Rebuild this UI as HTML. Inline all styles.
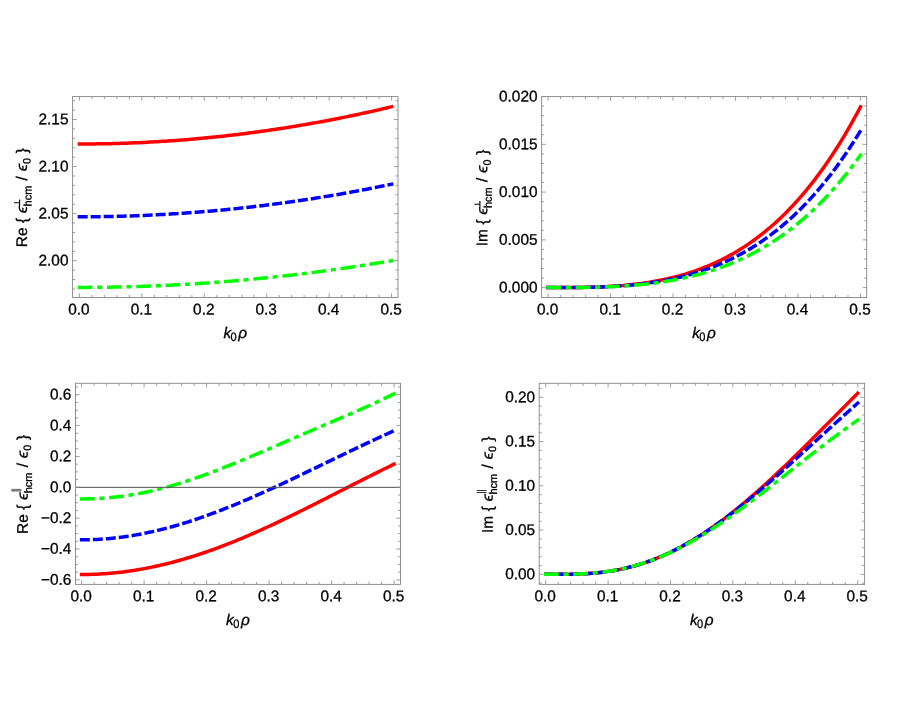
<!DOCTYPE html>
<html><head><meta charset="utf-8"><title>plots</title>
<style>
html,body{margin:0;padding:0;background:#fff;}
svg{display:block;will-change:transform;}
text{font-family:"Liberation Sans", sans-serif;fill:#000;stroke:#000;stroke-width:0.3px;text-rendering:geometricPrecision;}
</style></head>
<body>
<svg width="900" height="702" viewBox="0 0 900 702">
<rect x="0" y="0" width="900" height="702" fill="#fff"/>
<g fill="none" stroke-width="3.5" stroke-linecap="square" stroke-linejoin="round">
<polyline points="79.43,144 82.03,144 84.63,143.99 87.23,143.98 89.84,143.96 92.44,143.94 95.04,143.91 97.64,143.87 100.24,143.83 102.84,143.79 105.44,143.74 108.04,143.69 110.65,143.63 113.25,143.56 115.85,143.49 118.45,143.42 121.05,143.34 123.65,143.25 126.25,143.16 128.85,143.07 131.46,142.97 134.06,142.86 136.66,142.75 139.26,142.63 141.86,142.51 144.46,142.39 147.06,142.25 149.66,142.12 152.27,141.97 154.87,141.83 157.47,141.68 160.07,141.52 162.67,141.35 165.27,141.19 167.87,141.01 170.47,140.84 173.07,140.65 175.68,140.46 178.28,140.27 180.88,140.07 183.48,139.87 186.08,139.66 188.68,139.44 191.28,139.22 193.88,139 196.49,138.77 199.09,138.53 201.69,138.29 204.29,138.05 206.89,137.8 209.49,137.54 212.09,137.28 214.7,137.01 217.3,136.74 219.9,136.47 222.5,136.19 225.1,135.9 227.7,135.61 230.3,135.31 232.9,135.01 235.5,134.7 238.11,134.39 240.71,134.07 243.31,133.75 245.91,133.42 248.51,133.09 251.11,132.75 253.71,132.4 256.32,132.05 258.92,131.7 261.52,131.34 264.12,130.98 266.72,130.61 269.32,130.23 271.92,129.85 274.52,129.47 277.12,129.08 279.73,128.68 282.33,128.28 284.93,127.88 287.53,127.47 290.13,127.05 292.73,126.63 295.33,126.2 297.94,125.77 300.54,125.34 303.14,124.89 305.74,124.45 308.34,123.99 310.94,123.54 313.54,123.08 316.14,122.61 318.75,122.13 321.35,121.66 323.95,121.17 326.55,120.69 329.15,120.19 331.75,119.69 334.35,119.19 336.95,118.68 339.56,118.17 342.16,117.65 344.76,117.12 347.36,116.59 349.96,116.06 352.56,115.52 355.16,114.97 357.76,114.42 360.37,113.87 362.97,113.31 365.57,112.74 368.17,112.17 370.77,111.59 373.37,111.01 375.97,110.43 378.57,109.84 381.18,109.24 383.78,108.64 386.38,108.03 388.98,107.42 391.58,106.8" stroke="#ff0000"/>
<polyline points="79.43,216.8 82.03,216.8 84.63,216.79 87.23,216.78 89.84,216.76 92.44,216.74 95.04,216.72 97.64,216.69 100.24,216.66 102.84,216.62 105.44,216.57 108.04,216.53 110.65,216.47 113.25,216.42 115.85,216.36 118.45,216.29 121.05,216.22 123.65,216.15 126.25,216.07 128.85,215.98 131.46,215.89 134.06,215.8 136.66,215.7 139.26,215.6 141.86,215.5 144.46,215.39 147.06,215.27 149.66,215.15 152.27,215.03 154.87,214.9 157.47,214.76 160.07,214.62 162.67,214.48 165.27,214.33 167.87,214.18 170.47,214.03 173.07,213.87 175.68,213.7 178.28,213.53 180.88,213.36 183.48,213.18 186.08,212.99 188.68,212.81 191.28,212.61 193.88,212.42 196.49,212.22 199.09,212.01 201.69,211.8 204.29,211.58 206.89,211.36 209.49,211.14 212.09,210.91 214.7,210.68 217.3,210.44 219.9,210.2 222.5,209.95 225.1,209.7 227.7,209.44 230.3,209.18 232.9,208.92 235.5,208.65 238.11,208.38 240.71,208.1 243.31,207.81 245.91,207.53 248.51,207.24 251.11,206.94 253.71,206.64 256.32,206.33 258.92,206.02 261.52,205.71 264.12,205.39 266.72,205.06 269.32,204.74 271.92,204.4 274.52,204.07 277.12,203.72 279.73,203.38 282.33,203.03 284.93,202.67 287.53,202.31 290.13,201.95 292.73,201.58 295.33,201.2 297.94,200.83 300.54,200.44 303.14,200.06 305.74,199.66 308.34,199.27 310.94,198.87 313.54,198.46 316.14,198.05 318.75,197.64 321.35,197.22 323.95,196.8 326.55,196.37 329.15,195.94 331.75,195.5 334.35,195.06 336.95,194.61 339.56,194.16 342.16,193.71 344.76,193.25 347.36,192.78 349.96,192.31 352.56,191.84 355.16,191.36 357.76,190.88 360.37,190.39 362.97,189.9 365.57,189.41 368.17,188.91 370.77,188.4 373.37,187.89 375.97,187.38 378.57,186.86 381.18,186.34 383.78,185.81 386.38,185.28 388.98,184.74 391.58,184.2" stroke="#0000ff" stroke-dasharray="6.5 6.5"/>
<polyline points="79.43,287.4 82.03,287.4 84.63,287.39 87.23,287.38 89.84,287.37 92.44,287.35 95.04,287.33 97.64,287.31 100.24,287.28 102.84,287.25 105.44,287.21 108.04,287.18 110.65,287.13 113.25,287.09 115.85,287.04 118.45,286.98 121.05,286.93 123.65,286.86 126.25,286.8 128.85,286.73 131.46,286.66 134.06,286.58 136.66,286.5 139.26,286.42 141.86,286.33 144.46,286.24 147.06,286.15 149.66,286.05 152.27,285.95 154.87,285.84 157.47,285.73 160.07,285.62 162.67,285.5 165.27,285.38 167.87,285.26 170.47,285.13 173.07,285 175.68,284.86 178.28,284.72 180.88,284.58 183.48,284.43 186.08,284.28 188.68,284.13 191.28,283.97 193.88,283.81 196.49,283.65 199.09,283.48 201.69,283.3 204.29,283.13 206.89,282.95 209.49,282.76 212.09,282.58 214.7,282.39 217.3,282.19 219.9,281.99 222.5,281.79 225.1,281.59 227.7,281.38 230.3,281.16 232.9,280.95 235.5,280.72 238.11,280.5 240.71,280.27 243.31,280.04 245.91,279.81 248.51,279.57 251.11,279.32 253.71,279.08 256.32,278.83 258.92,278.57 261.52,278.31 264.12,278.05 266.72,277.79 269.32,277.52 271.92,277.25 274.52,276.97 277.12,276.69 279.73,276.41 282.33,276.12 284.93,275.83 287.53,275.53 290.13,275.23 292.73,274.93 295.33,274.63 297.94,274.32 300.54,274 303.14,273.69 305.74,273.37 308.34,273.04 310.94,272.71 313.54,272.38 316.14,272.05 318.75,271.71 321.35,271.36 323.95,271.02 326.55,270.67 329.15,270.31 331.75,269.95 334.35,269.59 336.95,269.23 339.56,268.86 342.16,268.49 344.76,268.11 347.36,267.73 349.96,267.35 352.56,266.96 355.16,266.57 357.76,266.17 360.37,265.77 362.97,265.37 365.57,264.96 368.17,264.55 370.77,264.14 373.37,263.72 375.97,263.3 378.57,262.88 381.18,262.45 383.78,262.02 386.38,261.58 388.98,261.14 391.58,260.7" stroke="#00ff00" stroke-dasharray="11.3 8.2 1.6 8.2"/>
</g>
<rect x="72.57" y="96.57" width="325.43" height="200.93" fill="none" stroke="#8c8c8c" stroke-width="0.95"/>
<line x1="79.43" y1="297.5" x2="79.43" y2="293.4" stroke="#8c8c8c" stroke-width="0.85"/>
<line x1="79.43" y1="96.57" x2="79.43" y2="100.67" stroke="#8c8c8c" stroke-width="0.85"/>
<text x="78.93" y="314.4" font-size="15.4" text-anchor="middle" transform="rotate(0.03 78.93 314.4)">0.0</text>
<line x1="91.92" y1="297.5" x2="91.92" y2="295" stroke="#8c8c8c" stroke-width="0.85"/>
<line x1="91.92" y1="96.57" x2="91.92" y2="99.07" stroke="#8c8c8c" stroke-width="0.85"/>
<line x1="104.4" y1="297.5" x2="104.4" y2="295" stroke="#8c8c8c" stroke-width="0.85"/>
<line x1="104.4" y1="96.57" x2="104.4" y2="99.07" stroke="#8c8c8c" stroke-width="0.85"/>
<line x1="116.89" y1="297.5" x2="116.89" y2="295" stroke="#8c8c8c" stroke-width="0.85"/>
<line x1="116.89" y1="96.57" x2="116.89" y2="99.07" stroke="#8c8c8c" stroke-width="0.85"/>
<line x1="129.37" y1="297.5" x2="129.37" y2="295" stroke="#8c8c8c" stroke-width="0.85"/>
<line x1="129.37" y1="96.57" x2="129.37" y2="99.07" stroke="#8c8c8c" stroke-width="0.85"/>
<line x1="141.86" y1="297.5" x2="141.86" y2="293.4" stroke="#8c8c8c" stroke-width="0.85"/>
<line x1="141.86" y1="96.57" x2="141.86" y2="100.67" stroke="#8c8c8c" stroke-width="0.85"/>
<text x="141.36" y="314.4" font-size="15.4" text-anchor="middle" transform="rotate(0.03 141.36 314.4)">0.1</text>
<line x1="154.35" y1="297.5" x2="154.35" y2="295" stroke="#8c8c8c" stroke-width="0.85"/>
<line x1="154.35" y1="96.57" x2="154.35" y2="99.07" stroke="#8c8c8c" stroke-width="0.85"/>
<line x1="166.83" y1="297.5" x2="166.83" y2="295" stroke="#8c8c8c" stroke-width="0.85"/>
<line x1="166.83" y1="96.57" x2="166.83" y2="99.07" stroke="#8c8c8c" stroke-width="0.85"/>
<line x1="179.32" y1="297.5" x2="179.32" y2="295" stroke="#8c8c8c" stroke-width="0.85"/>
<line x1="179.32" y1="96.57" x2="179.32" y2="99.07" stroke="#8c8c8c" stroke-width="0.85"/>
<line x1="191.8" y1="297.5" x2="191.8" y2="295" stroke="#8c8c8c" stroke-width="0.85"/>
<line x1="191.8" y1="96.57" x2="191.8" y2="99.07" stroke="#8c8c8c" stroke-width="0.85"/>
<line x1="204.29" y1="297.5" x2="204.29" y2="293.4" stroke="#8c8c8c" stroke-width="0.85"/>
<line x1="204.29" y1="96.57" x2="204.29" y2="100.67" stroke="#8c8c8c" stroke-width="0.85"/>
<text x="203.79" y="314.4" font-size="15.4" text-anchor="middle" transform="rotate(0.03 203.79 314.4)">0.2</text>
<line x1="216.78" y1="297.5" x2="216.78" y2="295" stroke="#8c8c8c" stroke-width="0.85"/>
<line x1="216.78" y1="96.57" x2="216.78" y2="99.07" stroke="#8c8c8c" stroke-width="0.85"/>
<line x1="229.26" y1="297.5" x2="229.26" y2="295" stroke="#8c8c8c" stroke-width="0.85"/>
<line x1="229.26" y1="96.57" x2="229.26" y2="99.07" stroke="#8c8c8c" stroke-width="0.85"/>
<line x1="241.75" y1="297.5" x2="241.75" y2="295" stroke="#8c8c8c" stroke-width="0.85"/>
<line x1="241.75" y1="96.57" x2="241.75" y2="99.07" stroke="#8c8c8c" stroke-width="0.85"/>
<line x1="254.23" y1="297.5" x2="254.23" y2="295" stroke="#8c8c8c" stroke-width="0.85"/>
<line x1="254.23" y1="96.57" x2="254.23" y2="99.07" stroke="#8c8c8c" stroke-width="0.85"/>
<line x1="266.72" y1="297.5" x2="266.72" y2="293.4" stroke="#8c8c8c" stroke-width="0.85"/>
<line x1="266.72" y1="96.57" x2="266.72" y2="100.67" stroke="#8c8c8c" stroke-width="0.85"/>
<text x="266.22" y="314.4" font-size="15.4" text-anchor="middle" transform="rotate(0.03 266.22 314.4)">0.3</text>
<line x1="279.21" y1="297.5" x2="279.21" y2="295" stroke="#8c8c8c" stroke-width="0.85"/>
<line x1="279.21" y1="96.57" x2="279.21" y2="99.07" stroke="#8c8c8c" stroke-width="0.85"/>
<line x1="291.69" y1="297.5" x2="291.69" y2="295" stroke="#8c8c8c" stroke-width="0.85"/>
<line x1="291.69" y1="96.57" x2="291.69" y2="99.07" stroke="#8c8c8c" stroke-width="0.85"/>
<line x1="304.18" y1="297.5" x2="304.18" y2="295" stroke="#8c8c8c" stroke-width="0.85"/>
<line x1="304.18" y1="96.57" x2="304.18" y2="99.07" stroke="#8c8c8c" stroke-width="0.85"/>
<line x1="316.66" y1="297.5" x2="316.66" y2="295" stroke="#8c8c8c" stroke-width="0.85"/>
<line x1="316.66" y1="96.57" x2="316.66" y2="99.07" stroke="#8c8c8c" stroke-width="0.85"/>
<line x1="329.15" y1="297.5" x2="329.15" y2="293.4" stroke="#8c8c8c" stroke-width="0.85"/>
<line x1="329.15" y1="96.57" x2="329.15" y2="100.67" stroke="#8c8c8c" stroke-width="0.85"/>
<text x="328.65" y="314.4" font-size="15.4" text-anchor="middle" transform="rotate(0.03 328.65 314.4)">0.4</text>
<line x1="341.64" y1="297.5" x2="341.64" y2="295" stroke="#8c8c8c" stroke-width="0.85"/>
<line x1="341.64" y1="96.57" x2="341.64" y2="99.07" stroke="#8c8c8c" stroke-width="0.85"/>
<line x1="354.12" y1="297.5" x2="354.12" y2="295" stroke="#8c8c8c" stroke-width="0.85"/>
<line x1="354.12" y1="96.57" x2="354.12" y2="99.07" stroke="#8c8c8c" stroke-width="0.85"/>
<line x1="366.61" y1="297.5" x2="366.61" y2="295" stroke="#8c8c8c" stroke-width="0.85"/>
<line x1="366.61" y1="96.57" x2="366.61" y2="99.07" stroke="#8c8c8c" stroke-width="0.85"/>
<line x1="379.09" y1="297.5" x2="379.09" y2="295" stroke="#8c8c8c" stroke-width="0.85"/>
<line x1="379.09" y1="96.57" x2="379.09" y2="99.07" stroke="#8c8c8c" stroke-width="0.85"/>
<line x1="391.58" y1="297.5" x2="391.58" y2="293.4" stroke="#8c8c8c" stroke-width="0.85"/>
<line x1="391.58" y1="96.57" x2="391.58" y2="100.67" stroke="#8c8c8c" stroke-width="0.85"/>
<text x="391.08" y="314.4" font-size="15.4" text-anchor="middle" transform="rotate(0.03 391.08 314.4)">0.5</text>
<line x1="72.57" y1="288.94" x2="75.07" y2="288.94" stroke="#8c8c8c" stroke-width="0.85"/>
<line x1="398" y1="288.94" x2="395.5" y2="288.94" stroke="#8c8c8c" stroke-width="0.85"/>
<line x1="72.57" y1="279.53" x2="75.07" y2="279.53" stroke="#8c8c8c" stroke-width="0.85"/>
<line x1="398" y1="279.53" x2="395.5" y2="279.53" stroke="#8c8c8c" stroke-width="0.85"/>
<line x1="72.57" y1="270.11" x2="75.07" y2="270.11" stroke="#8c8c8c" stroke-width="0.85"/>
<line x1="398" y1="270.11" x2="395.5" y2="270.11" stroke="#8c8c8c" stroke-width="0.85"/>
<line x1="72.57" y1="260.7" x2="76.67" y2="260.7" stroke="#8c8c8c" stroke-width="0.85"/>
<line x1="398" y1="260.7" x2="393.9" y2="260.7" stroke="#8c8c8c" stroke-width="0.85"/>
<text x="68.47" y="265.55" font-size="15.4" text-anchor="end" transform="rotate(0.03 68.47 265.55)">2.00</text>
<line x1="72.57" y1="251.29" x2="75.07" y2="251.29" stroke="#8c8c8c" stroke-width="0.85"/>
<line x1="398" y1="251.29" x2="395.5" y2="251.29" stroke="#8c8c8c" stroke-width="0.85"/>
<line x1="72.57" y1="241.87" x2="75.07" y2="241.87" stroke="#8c8c8c" stroke-width="0.85"/>
<line x1="398" y1="241.87" x2="395.5" y2="241.87" stroke="#8c8c8c" stroke-width="0.85"/>
<line x1="72.57" y1="232.46" x2="75.07" y2="232.46" stroke="#8c8c8c" stroke-width="0.85"/>
<line x1="398" y1="232.46" x2="395.5" y2="232.46" stroke="#8c8c8c" stroke-width="0.85"/>
<line x1="72.57" y1="223.04" x2="75.07" y2="223.04" stroke="#8c8c8c" stroke-width="0.85"/>
<line x1="398" y1="223.04" x2="395.5" y2="223.04" stroke="#8c8c8c" stroke-width="0.85"/>
<line x1="72.57" y1="213.63" x2="76.67" y2="213.63" stroke="#8c8c8c" stroke-width="0.85"/>
<line x1="398" y1="213.63" x2="393.9" y2="213.63" stroke="#8c8c8c" stroke-width="0.85"/>
<text x="68.47" y="218.48" font-size="15.4" text-anchor="end" transform="rotate(0.03 68.47 218.48)">2.05</text>
<line x1="72.57" y1="204.22" x2="75.07" y2="204.22" stroke="#8c8c8c" stroke-width="0.85"/>
<line x1="398" y1="204.22" x2="395.5" y2="204.22" stroke="#8c8c8c" stroke-width="0.85"/>
<line x1="72.57" y1="194.8" x2="75.07" y2="194.8" stroke="#8c8c8c" stroke-width="0.85"/>
<line x1="398" y1="194.8" x2="395.5" y2="194.8" stroke="#8c8c8c" stroke-width="0.85"/>
<line x1="72.57" y1="185.39" x2="75.07" y2="185.39" stroke="#8c8c8c" stroke-width="0.85"/>
<line x1="398" y1="185.39" x2="395.5" y2="185.39" stroke="#8c8c8c" stroke-width="0.85"/>
<line x1="72.57" y1="175.97" x2="75.07" y2="175.97" stroke="#8c8c8c" stroke-width="0.85"/>
<line x1="398" y1="175.97" x2="395.5" y2="175.97" stroke="#8c8c8c" stroke-width="0.85"/>
<line x1="72.57" y1="166.56" x2="76.67" y2="166.56" stroke="#8c8c8c" stroke-width="0.85"/>
<line x1="398" y1="166.56" x2="393.9" y2="166.56" stroke="#8c8c8c" stroke-width="0.85"/>
<text x="68.47" y="171.41" font-size="15.4" text-anchor="end" transform="rotate(0.03 68.47 171.41)">2.10</text>
<line x1="72.57" y1="157.15" x2="75.07" y2="157.15" stroke="#8c8c8c" stroke-width="0.85"/>
<line x1="398" y1="157.15" x2="395.5" y2="157.15" stroke="#8c8c8c" stroke-width="0.85"/>
<line x1="72.57" y1="147.73" x2="75.07" y2="147.73" stroke="#8c8c8c" stroke-width="0.85"/>
<line x1="398" y1="147.73" x2="395.5" y2="147.73" stroke="#8c8c8c" stroke-width="0.85"/>
<line x1="72.57" y1="138.32" x2="75.07" y2="138.32" stroke="#8c8c8c" stroke-width="0.85"/>
<line x1="398" y1="138.32" x2="395.5" y2="138.32" stroke="#8c8c8c" stroke-width="0.85"/>
<line x1="72.57" y1="128.9" x2="75.07" y2="128.9" stroke="#8c8c8c" stroke-width="0.85"/>
<line x1="398" y1="128.9" x2="395.5" y2="128.9" stroke="#8c8c8c" stroke-width="0.85"/>
<line x1="72.57" y1="119.49" x2="76.67" y2="119.49" stroke="#8c8c8c" stroke-width="0.85"/>
<line x1="398" y1="119.49" x2="393.9" y2="119.49" stroke="#8c8c8c" stroke-width="0.85"/>
<text x="68.47" y="124.34" font-size="15.4" text-anchor="end" transform="rotate(0.03 68.47 124.34)">2.15</text>
<line x1="72.57" y1="110.08" x2="75.07" y2="110.08" stroke="#8c8c8c" stroke-width="0.85"/>
<line x1="398" y1="110.08" x2="395.5" y2="110.08" stroke="#8c8c8c" stroke-width="0.85"/>
<line x1="72.57" y1="100.66" x2="75.07" y2="100.66" stroke="#8c8c8c" stroke-width="0.85"/>
<line x1="398" y1="100.66" x2="395.5" y2="100.66" stroke="#8c8c8c" stroke-width="0.85"/>
<text x="223.38" y="338.1" font-size="15.4" text-anchor="start" font-style="italic" transform="rotate(0.03 223.38 338.1)">k</text>
<text x="230.45" y="340.8" font-size="12.3" text-anchor="start" transform="rotate(0.03 230.45 340.8)" textLength="6.16" lengthAdjust="spacingAndGlyphs">0</text>
<text x="238.21" y="338.1" font-size="15.4" text-anchor="start" font-style="italic" transform="rotate(0.03 238.21 338.1)">ρ</text>
<g transform="translate(27,245.9) rotate(-90)">
<text x="-1.26" y="0" font-size="15.4" text-anchor="start" transform="rotate(0.03 -1.26 0)">Re</text>
<text x="22.84" y="0" font-size="15.4" text-anchor="start" transform="rotate(0.03 22.84 0)">{</text>
<text x="32.66" y="0" font-size="15.4" text-anchor="start" font-style="italic" transform="rotate(0.03 32.66 0)" textLength="7.40" lengthAdjust="spacingAndGlyphs">ϵ</text>
<text x="39.44" y="4.4" font-size="11.0" text-anchor="start" transform="rotate(0.03 39.44 4.4)">hcm</text>
<text x="65.5" y="0" font-size="15.4" text-anchor="start" transform="rotate(0.03 65.5 0)">/</text>
<text x="74.56" y="0" font-size="15.4" text-anchor="start" font-style="italic" transform="rotate(0.03 74.56 0)" textLength="7.40" lengthAdjust="spacingAndGlyphs">ϵ</text>
<text x="81.98" y="3.4" font-size="10.7" text-anchor="start" transform="rotate(0.03 81.98 3.4)">0</text>
<text x="92.64" y="0" font-size="15.4" text-anchor="start" transform="rotate(0.03 92.64 0)">}</text>
<path d="M40.05,-7.4 H46.35 M43.2,-7.4 V-12.9" stroke="#000" stroke-width="1.1" fill="none"/>
</g>
<g fill="none" stroke-width="3.5" stroke-linecap="square" stroke-linejoin="round">
<polyline points="548.1,287.6 550.7,287.6 553.31,287.6 555.91,287.6 558.51,287.59 561.12,287.59 563.72,287.58 566.32,287.57 568.93,287.55 571.53,287.53 574.13,287.51 576.74,287.48 579.34,287.45 581.94,287.4 584.55,287.35 587.15,287.3 589.75,287.23 592.36,287.16 594.96,287.08 597.56,286.98 600.17,286.88 602.77,286.77 605.37,286.64 607.98,286.51 610.58,286.36 613.18,286.19 615.79,286.02 618.39,285.82 620.99,285.62 623.6,285.4 626.2,285.16 628.8,284.91 631.41,284.63 634.01,284.35 636.61,284.04 639.22,283.71 641.82,283.36 644.42,283 647.03,282.61 649.63,282.2 652.23,281.77 654.84,281.32 657.44,280.84 660.04,280.34 662.65,279.81 665.25,279.26 667.85,278.68 670.46,278.07 673.06,277.44 675.66,276.78 678.27,276.09 680.87,275.38 683.47,274.63 686.08,273.85 688.68,273.04 691.28,272.19 693.89,271.32 696.49,270.41 699.09,269.46 701.7,268.48 704.3,267.47 706.9,266.41 709.51,265.32 712.11,264.19 714.71,263.03 717.32,261.82 719.92,260.57 722.52,259.28 725.13,257.95 727.73,256.58 730.33,255.16 732.94,253.69 735.54,252.18 738.14,250.63 740.75,249.02 743.35,247.37 745.95,245.67 748.56,243.92 751.16,242.12 753.76,240.27 756.37,238.36 758.97,236.4 761.57,234.38 764.18,232.31 766.78,230.19 769.38,228 771.99,225.76 774.59,223.46 777.19,221.09 779.8,218.67 782.4,216.18 785,213.63 787.61,211.01 790.21,208.33 792.81,205.58 795.42,202.76 798.02,199.88 800.62,196.92 803.23,193.89 805.83,190.79 808.43,187.62 811.04,184.37 813.64,181.05 816.24,177.65 818.85,174.17 821.45,170.61 824.05,166.97 826.66,163.25 829.26,159.44 831.86,155.55 834.47,151.57 837.07,147.51 839.67,143.36 842.28,139.12 844.88,134.79 847.48,130.36 850.09,125.84 852.69,121.23 855.29,116.52 857.9,111.71 860.5,106.8" stroke="#ff0000"/>
<polyline points="548.1,287.6 550.7,287.6 553.31,287.6 555.91,287.6 558.51,287.6 561.12,287.59 563.72,287.58 566.32,287.57 568.93,287.56 571.53,287.54 574.13,287.52 576.74,287.5 579.34,287.47 581.94,287.43 584.55,287.39 587.15,287.34 589.75,287.28 592.36,287.22 594.96,287.15 597.56,287.07 600.17,286.98 602.77,286.88 605.37,286.77 607.98,286.65 610.58,286.52 613.18,286.38 615.79,286.23 618.39,286.06 620.99,285.88 623.6,285.69 626.2,285.48 628.8,285.26 631.41,285.03 634.01,284.78 636.61,284.51 639.22,284.23 641.82,283.93 644.42,283.61 647.03,283.27 649.63,282.92 652.23,282.54 654.84,282.15 657.44,281.74 660.04,281.3 662.65,280.84 665.25,280.36 667.85,279.86 670.46,279.34 673.06,278.79 675.66,278.22 678.27,277.62 680.87,277 683.47,276.35 686.08,275.67 688.68,274.97 691.28,274.24 693.89,273.48 696.49,272.69 699.09,271.87 701.7,271.02 704.3,270.14 706.9,269.22 709.51,268.28 712.11,267.3 714.71,266.29 717.32,265.24 719.92,264.16 722.52,263.04 725.13,261.88 727.73,260.69 730.33,259.46 732.94,258.19 735.54,256.88 738.14,255.53 740.75,254.14 743.35,252.71 745.95,251.24 748.56,249.72 751.16,248.15 753.76,246.55 756.37,244.89 758.97,243.19 761.57,241.45 764.18,239.65 766.78,237.81 769.38,235.91 771.99,233.97 774.59,231.97 777.19,229.92 779.8,227.82 782.4,225.66 785,223.45 787.61,221.18 790.21,218.85 792.81,216.47 795.42,214.02 798.02,211.52 800.62,208.96 803.23,206.33 805.83,203.64 808.43,200.89 811.04,198.07 813.64,195.19 816.24,192.24 818.85,189.22 821.45,186.14 824.05,182.98 826.66,179.75 829.26,176.45 831.86,173.08 834.47,169.63 837.07,166.11 839.67,162.51 842.28,158.83 844.88,155.07 847.48,151.23 850.09,147.31 852.69,143.31 855.29,139.23 857.9,135.06 860.5,130.8" stroke="#0000ff" stroke-dasharray="6.5 6.5"/>
<polyline points="548.1,287.6 550.7,287.6 553.31,287.6 555.91,287.6 558.51,287.6 561.12,287.59 563.72,287.59 566.32,287.58 568.93,287.57 571.53,287.55 574.13,287.53 576.74,287.51 579.34,287.49 581.94,287.46 584.55,287.42 587.15,287.38 589.75,287.33 592.36,287.28 594.96,287.22 597.56,287.15 600.17,287.07 602.77,286.99 605.37,286.9 607.98,286.8 610.58,286.69 613.18,286.57 615.79,286.44 618.39,286.3 620.99,286.15 623.6,285.99 626.2,285.81 628.8,285.63 631.41,285.43 634.01,285.22 636.61,284.99 639.22,284.75 641.82,284.5 644.42,284.23 647.03,283.94 649.63,283.64 652.23,283.33 654.84,283 657.44,282.65 660.04,282.28 662.65,281.89 665.25,281.49 667.85,281.06 670.46,280.62 673.06,280.16 675.66,279.67 678.27,279.17 680.87,278.64 683.47,278.1 686.08,277.52 688.68,276.93 691.28,276.31 693.89,275.67 696.49,275 699.09,274.31 701.7,273.59 704.3,272.85 706.9,272.08 709.51,271.28 712.11,270.45 714.71,269.6 717.32,268.71 719.92,267.8 722.52,266.86 725.13,265.88 727.73,264.87 730.33,263.83 732.94,262.76 735.54,261.66 738.14,260.52 740.75,259.34 743.35,258.13 745.95,256.89 748.56,255.6 751.16,254.28 753.76,252.93 756.37,251.53 758.97,250.1 761.57,248.62 764.18,247.1 766.78,245.55 769.38,243.95 771.99,242.3 774.59,240.62 777.19,238.89 779.8,237.11 782.4,235.29 785,233.42 787.61,231.5 790.21,229.54 792.81,227.53 795.42,225.46 798.02,223.35 800.62,221.19 803.23,218.97 805.83,216.7 808.43,214.37 811.04,212 813.64,209.56 816.24,207.07 818.85,204.52 821.45,201.92 824.05,199.25 826.66,196.53 829.26,193.74 831.86,190.89 834.47,187.98 837.07,185.01 839.67,181.97 842.28,178.86 844.88,175.69 847.48,172.45 850.09,169.14 852.69,165.76 855.29,162.31 857.9,158.79 860.5,155.2" stroke="#00ff00" stroke-dasharray="11.3 8.2 1.6 8.2"/>
</g>
<rect x="541.6" y="96.57" width="325.1" height="200.93" fill="none" stroke="#8c8c8c" stroke-width="0.95"/>
<line x1="548.1" y1="297.5" x2="548.1" y2="293.4" stroke="#8c8c8c" stroke-width="0.85"/>
<line x1="548.1" y1="96.57" x2="548.1" y2="100.67" stroke="#8c8c8c" stroke-width="0.85"/>
<text x="547.6" y="314.4" font-size="15.4" text-anchor="middle" transform="rotate(0.03 547.6 314.4)">0.0</text>
<line x1="560.6" y1="297.5" x2="560.6" y2="295" stroke="#8c8c8c" stroke-width="0.85"/>
<line x1="560.6" y1="96.57" x2="560.6" y2="99.07" stroke="#8c8c8c" stroke-width="0.85"/>
<line x1="573.09" y1="297.5" x2="573.09" y2="295" stroke="#8c8c8c" stroke-width="0.85"/>
<line x1="573.09" y1="96.57" x2="573.09" y2="99.07" stroke="#8c8c8c" stroke-width="0.85"/>
<line x1="585.59" y1="297.5" x2="585.59" y2="295" stroke="#8c8c8c" stroke-width="0.85"/>
<line x1="585.59" y1="96.57" x2="585.59" y2="99.07" stroke="#8c8c8c" stroke-width="0.85"/>
<line x1="598.08" y1="297.5" x2="598.08" y2="295" stroke="#8c8c8c" stroke-width="0.85"/>
<line x1="598.08" y1="96.57" x2="598.08" y2="99.07" stroke="#8c8c8c" stroke-width="0.85"/>
<line x1="610.58" y1="297.5" x2="610.58" y2="293.4" stroke="#8c8c8c" stroke-width="0.85"/>
<line x1="610.58" y1="96.57" x2="610.58" y2="100.67" stroke="#8c8c8c" stroke-width="0.85"/>
<text x="610.08" y="314.4" font-size="15.4" text-anchor="middle" transform="rotate(0.03 610.08 314.4)">0.1</text>
<line x1="623.08" y1="297.5" x2="623.08" y2="295" stroke="#8c8c8c" stroke-width="0.85"/>
<line x1="623.08" y1="96.57" x2="623.08" y2="99.07" stroke="#8c8c8c" stroke-width="0.85"/>
<line x1="635.57" y1="297.5" x2="635.57" y2="295" stroke="#8c8c8c" stroke-width="0.85"/>
<line x1="635.57" y1="96.57" x2="635.57" y2="99.07" stroke="#8c8c8c" stroke-width="0.85"/>
<line x1="648.07" y1="297.5" x2="648.07" y2="295" stroke="#8c8c8c" stroke-width="0.85"/>
<line x1="648.07" y1="96.57" x2="648.07" y2="99.07" stroke="#8c8c8c" stroke-width="0.85"/>
<line x1="660.56" y1="297.5" x2="660.56" y2="295" stroke="#8c8c8c" stroke-width="0.85"/>
<line x1="660.56" y1="96.57" x2="660.56" y2="99.07" stroke="#8c8c8c" stroke-width="0.85"/>
<line x1="673.06" y1="297.5" x2="673.06" y2="293.4" stroke="#8c8c8c" stroke-width="0.85"/>
<line x1="673.06" y1="96.57" x2="673.06" y2="100.67" stroke="#8c8c8c" stroke-width="0.85"/>
<text x="672.56" y="314.4" font-size="15.4" text-anchor="middle" transform="rotate(0.03 672.56 314.4)">0.2</text>
<line x1="685.56" y1="297.5" x2="685.56" y2="295" stroke="#8c8c8c" stroke-width="0.85"/>
<line x1="685.56" y1="96.57" x2="685.56" y2="99.07" stroke="#8c8c8c" stroke-width="0.85"/>
<line x1="698.05" y1="297.5" x2="698.05" y2="295" stroke="#8c8c8c" stroke-width="0.85"/>
<line x1="698.05" y1="96.57" x2="698.05" y2="99.07" stroke="#8c8c8c" stroke-width="0.85"/>
<line x1="710.55" y1="297.5" x2="710.55" y2="295" stroke="#8c8c8c" stroke-width="0.85"/>
<line x1="710.55" y1="96.57" x2="710.55" y2="99.07" stroke="#8c8c8c" stroke-width="0.85"/>
<line x1="723.04" y1="297.5" x2="723.04" y2="295" stroke="#8c8c8c" stroke-width="0.85"/>
<line x1="723.04" y1="96.57" x2="723.04" y2="99.07" stroke="#8c8c8c" stroke-width="0.85"/>
<line x1="735.54" y1="297.5" x2="735.54" y2="293.4" stroke="#8c8c8c" stroke-width="0.85"/>
<line x1="735.54" y1="96.57" x2="735.54" y2="100.67" stroke="#8c8c8c" stroke-width="0.85"/>
<text x="735.04" y="314.4" font-size="15.4" text-anchor="middle" transform="rotate(0.03 735.04 314.4)">0.3</text>
<line x1="748.04" y1="297.5" x2="748.04" y2="295" stroke="#8c8c8c" stroke-width="0.85"/>
<line x1="748.04" y1="96.57" x2="748.04" y2="99.07" stroke="#8c8c8c" stroke-width="0.85"/>
<line x1="760.53" y1="297.5" x2="760.53" y2="295" stroke="#8c8c8c" stroke-width="0.85"/>
<line x1="760.53" y1="96.57" x2="760.53" y2="99.07" stroke="#8c8c8c" stroke-width="0.85"/>
<line x1="773.03" y1="297.5" x2="773.03" y2="295" stroke="#8c8c8c" stroke-width="0.85"/>
<line x1="773.03" y1="96.57" x2="773.03" y2="99.07" stroke="#8c8c8c" stroke-width="0.85"/>
<line x1="785.52" y1="297.5" x2="785.52" y2="295" stroke="#8c8c8c" stroke-width="0.85"/>
<line x1="785.52" y1="96.57" x2="785.52" y2="99.07" stroke="#8c8c8c" stroke-width="0.85"/>
<line x1="798.02" y1="297.5" x2="798.02" y2="293.4" stroke="#8c8c8c" stroke-width="0.85"/>
<line x1="798.02" y1="96.57" x2="798.02" y2="100.67" stroke="#8c8c8c" stroke-width="0.85"/>
<text x="797.52" y="314.4" font-size="15.4" text-anchor="middle" transform="rotate(0.03 797.52 314.4)">0.4</text>
<line x1="810.52" y1="297.5" x2="810.52" y2="295" stroke="#8c8c8c" stroke-width="0.85"/>
<line x1="810.52" y1="96.57" x2="810.52" y2="99.07" stroke="#8c8c8c" stroke-width="0.85"/>
<line x1="823.01" y1="297.5" x2="823.01" y2="295" stroke="#8c8c8c" stroke-width="0.85"/>
<line x1="823.01" y1="96.57" x2="823.01" y2="99.07" stroke="#8c8c8c" stroke-width="0.85"/>
<line x1="835.51" y1="297.5" x2="835.51" y2="295" stroke="#8c8c8c" stroke-width="0.85"/>
<line x1="835.51" y1="96.57" x2="835.51" y2="99.07" stroke="#8c8c8c" stroke-width="0.85"/>
<line x1="848" y1="297.5" x2="848" y2="295" stroke="#8c8c8c" stroke-width="0.85"/>
<line x1="848" y1="96.57" x2="848" y2="99.07" stroke="#8c8c8c" stroke-width="0.85"/>
<line x1="860.5" y1="297.5" x2="860.5" y2="293.4" stroke="#8c8c8c" stroke-width="0.85"/>
<line x1="860.5" y1="96.57" x2="860.5" y2="100.67" stroke="#8c8c8c" stroke-width="0.85"/>
<text x="860" y="314.4" font-size="15.4" text-anchor="middle" transform="rotate(0.03 860 314.4)">0.5</text>
<line x1="541.6" y1="287.6" x2="545.7" y2="287.6" stroke="#8c8c8c" stroke-width="0.85"/>
<line x1="866.7" y1="287.6" x2="862.6" y2="287.6" stroke="#8c8c8c" stroke-width="0.85"/>
<text x="537.5" y="292.45" font-size="15.4" text-anchor="end" transform="rotate(0.03 537.5 292.45)">0.000</text>
<line x1="541.6" y1="278.05" x2="544.1" y2="278.05" stroke="#8c8c8c" stroke-width="0.85"/>
<line x1="866.7" y1="278.05" x2="864.2" y2="278.05" stroke="#8c8c8c" stroke-width="0.85"/>
<line x1="541.6" y1="268.5" x2="544.1" y2="268.5" stroke="#8c8c8c" stroke-width="0.85"/>
<line x1="866.7" y1="268.5" x2="864.2" y2="268.5" stroke="#8c8c8c" stroke-width="0.85"/>
<line x1="541.6" y1="258.95" x2="544.1" y2="258.95" stroke="#8c8c8c" stroke-width="0.85"/>
<line x1="866.7" y1="258.95" x2="864.2" y2="258.95" stroke="#8c8c8c" stroke-width="0.85"/>
<line x1="541.6" y1="249.4" x2="544.1" y2="249.4" stroke="#8c8c8c" stroke-width="0.85"/>
<line x1="866.7" y1="249.4" x2="864.2" y2="249.4" stroke="#8c8c8c" stroke-width="0.85"/>
<line x1="541.6" y1="239.85" x2="545.7" y2="239.85" stroke="#8c8c8c" stroke-width="0.85"/>
<line x1="866.7" y1="239.85" x2="862.6" y2="239.85" stroke="#8c8c8c" stroke-width="0.85"/>
<text x="537.5" y="244.7" font-size="15.4" text-anchor="end" transform="rotate(0.03 537.5 244.7)">0.005</text>
<line x1="541.6" y1="230.3" x2="544.1" y2="230.3" stroke="#8c8c8c" stroke-width="0.85"/>
<line x1="866.7" y1="230.3" x2="864.2" y2="230.3" stroke="#8c8c8c" stroke-width="0.85"/>
<line x1="541.6" y1="220.75" x2="544.1" y2="220.75" stroke="#8c8c8c" stroke-width="0.85"/>
<line x1="866.7" y1="220.75" x2="864.2" y2="220.75" stroke="#8c8c8c" stroke-width="0.85"/>
<line x1="541.6" y1="211.2" x2="544.1" y2="211.2" stroke="#8c8c8c" stroke-width="0.85"/>
<line x1="866.7" y1="211.2" x2="864.2" y2="211.2" stroke="#8c8c8c" stroke-width="0.85"/>
<line x1="541.6" y1="201.65" x2="544.1" y2="201.65" stroke="#8c8c8c" stroke-width="0.85"/>
<line x1="866.7" y1="201.65" x2="864.2" y2="201.65" stroke="#8c8c8c" stroke-width="0.85"/>
<line x1="541.6" y1="192.1" x2="545.7" y2="192.1" stroke="#8c8c8c" stroke-width="0.85"/>
<line x1="866.7" y1="192.1" x2="862.6" y2="192.1" stroke="#8c8c8c" stroke-width="0.85"/>
<text x="537.5" y="196.95" font-size="15.4" text-anchor="end" transform="rotate(0.03 537.5 196.95)">0.010</text>
<line x1="541.6" y1="182.55" x2="544.1" y2="182.55" stroke="#8c8c8c" stroke-width="0.85"/>
<line x1="866.7" y1="182.55" x2="864.2" y2="182.55" stroke="#8c8c8c" stroke-width="0.85"/>
<line x1="541.6" y1="173" x2="544.1" y2="173" stroke="#8c8c8c" stroke-width="0.85"/>
<line x1="866.7" y1="173" x2="864.2" y2="173" stroke="#8c8c8c" stroke-width="0.85"/>
<line x1="541.6" y1="163.45" x2="544.1" y2="163.45" stroke="#8c8c8c" stroke-width="0.85"/>
<line x1="866.7" y1="163.45" x2="864.2" y2="163.45" stroke="#8c8c8c" stroke-width="0.85"/>
<line x1="541.6" y1="153.9" x2="544.1" y2="153.9" stroke="#8c8c8c" stroke-width="0.85"/>
<line x1="866.7" y1="153.9" x2="864.2" y2="153.9" stroke="#8c8c8c" stroke-width="0.85"/>
<line x1="541.6" y1="144.35" x2="545.7" y2="144.35" stroke="#8c8c8c" stroke-width="0.85"/>
<line x1="866.7" y1="144.35" x2="862.6" y2="144.35" stroke="#8c8c8c" stroke-width="0.85"/>
<text x="537.5" y="149.2" font-size="15.4" text-anchor="end" transform="rotate(0.03 537.5 149.2)">0.015</text>
<line x1="541.6" y1="134.8" x2="544.1" y2="134.8" stroke="#8c8c8c" stroke-width="0.85"/>
<line x1="866.7" y1="134.8" x2="864.2" y2="134.8" stroke="#8c8c8c" stroke-width="0.85"/>
<line x1="541.6" y1="125.25" x2="544.1" y2="125.25" stroke="#8c8c8c" stroke-width="0.85"/>
<line x1="866.7" y1="125.25" x2="864.2" y2="125.25" stroke="#8c8c8c" stroke-width="0.85"/>
<line x1="541.6" y1="115.7" x2="544.1" y2="115.7" stroke="#8c8c8c" stroke-width="0.85"/>
<line x1="866.7" y1="115.7" x2="864.2" y2="115.7" stroke="#8c8c8c" stroke-width="0.85"/>
<line x1="541.6" y1="106.15" x2="544.1" y2="106.15" stroke="#8c8c8c" stroke-width="0.85"/>
<line x1="866.7" y1="106.15" x2="864.2" y2="106.15" stroke="#8c8c8c" stroke-width="0.85"/>
<line x1="541.6" y1="96.6" x2="545.7" y2="96.6" stroke="#8c8c8c" stroke-width="0.85"/>
<line x1="866.7" y1="96.6" x2="862.6" y2="96.6" stroke="#8c8c8c" stroke-width="0.85"/>
<text x="537.5" y="101.45" font-size="15.4" text-anchor="end" transform="rotate(0.03 537.5 101.45)">0.020</text>
<text x="692.24" y="338.1" font-size="15.4" text-anchor="start" font-style="italic" transform="rotate(0.03 692.24 338.1)">k</text>
<text x="699.32" y="340.8" font-size="12.3" text-anchor="start" transform="rotate(0.03 699.32 340.8)" textLength="6.16" lengthAdjust="spacingAndGlyphs">0</text>
<text x="707.08" y="338.1" font-size="15.4" text-anchor="start" font-style="italic" transform="rotate(0.03 707.08 338.1)">ρ</text>
<g transform="translate(487.3,244.9) rotate(-90)">
<text x="-1.42" y="0" font-size="15.4" text-anchor="start" transform="rotate(0.03 -1.42 0)">Im</text>
<text x="20.31" y="0" font-size="15.4" text-anchor="start" transform="rotate(0.03 20.31 0)">{</text>
<text x="30.13" y="0" font-size="15.4" text-anchor="start" font-style="italic" transform="rotate(0.03 30.13 0)" textLength="7.40" lengthAdjust="spacingAndGlyphs">ϵ</text>
<text x="36.91" y="4.4" font-size="11.0" text-anchor="start" transform="rotate(0.03 36.91 4.4)">hcm</text>
<text x="62.97" y="0" font-size="15.4" text-anchor="start" transform="rotate(0.03 62.97 0)">/</text>
<text x="72.03" y="0" font-size="15.4" text-anchor="start" font-style="italic" transform="rotate(0.03 72.03 0)" textLength="7.40" lengthAdjust="spacingAndGlyphs">ϵ</text>
<text x="79.45" y="3.4" font-size="10.7" text-anchor="start" transform="rotate(0.03 79.45 3.4)">0</text>
<text x="90.11" y="0" font-size="15.4" text-anchor="start" transform="rotate(0.03 90.11 0)">}</text>
<path d="M37.52,-7.4 H43.82 M40.67,-7.4 V-12.9" stroke="#000" stroke-width="1.1" fill="none"/>
</g>
<g fill="none" stroke-width="3.5" stroke-linecap="square" stroke-linejoin="round">
<polyline points="81.6,574.5 84.2,574.49 86.81,574.46 89.41,574.41 92.02,574.34 94.62,574.24 97.22,574.13 99.83,574 102.43,573.85 105.04,573.67 107.64,573.48 110.25,573.26 112.85,573.03 115.45,572.77 118.06,572.5 120.66,572.2 123.27,571.89 125.87,571.55 128.47,571.2 131.08,570.82 133.68,570.43 136.29,570.01 138.89,569.58 141.5,569.13 144.1,568.65 146.7,568.16 149.31,567.65 151.91,567.12 154.52,566.57 157.12,566 159.72,565.41 162.33,564.81 164.93,564.18 167.54,563.54 170.14,562.88 172.75,562.2 175.35,561.51 177.95,560.79 180.56,560.06 183.16,559.31 185.77,558.55 188.37,557.77 190.97,556.97 193.58,556.15 196.18,555.32 198.79,554.47 201.39,553.61 204,552.73 206.6,551.83 209.2,550.92 211.81,549.99 214.41,549.05 217.02,548.1 219.62,547.13 222.22,546.14 224.83,545.14 227.43,544.13 230.04,543.11 232.64,542.07 235.25,541.02 237.85,539.95 240.45,538.87 243.06,537.79 245.66,536.68 248.27,535.57 250.87,534.45 253.47,533.31 256.08,532.16 258.68,531.01 261.29,529.84 263.89,528.66 266.5,527.48 269.1,526.28 271.7,525.07 274.31,523.86 276.91,522.64 279.52,521.41 282.12,520.17 284.73,518.92 287.33,517.67 289.93,516.4 292.54,515.14 295.14,513.86 297.75,512.58 300.35,511.3 302.95,510.01 305.56,508.71 308.16,507.41 310.77,506.11 313.37,504.8 315.98,503.48 318.58,502.17 321.18,500.85 323.79,499.53 326.39,498.2 329,496.88 331.6,495.55 334.2,494.22 336.81,492.89 339.41,491.56 342.02,490.23 344.62,488.9 347.23,487.58 349.83,486.25 352.43,484.92 355.04,483.6 357.64,482.28 360.25,480.96 362.85,479.64 365.45,478.32 368.06,477.01 370.66,475.71 373.27,474.41 375.87,473.11 378.48,471.82 381.08,470.53 383.68,469.25 386.29,467.98 388.89,466.71 391.5,465.45 394.1,464.2" stroke="#ff0000"/>
<polyline points="81.6,539.8 84.2,539.79 86.81,539.75 89.41,539.7 92.02,539.62 94.62,539.52 97.22,539.39 99.83,539.24 102.43,539.07 105.04,538.88 107.64,538.67 110.25,538.43 112.85,538.17 115.45,537.89 118.06,537.59 120.66,537.27 123.27,536.92 125.87,536.56 128.47,536.17 131.08,535.76 133.68,535.33 136.29,534.88 138.89,534.41 141.5,533.91 144.1,533.4 146.7,532.87 149.31,532.32 151.91,531.75 154.52,531.16 157.12,530.55 159.72,529.92 162.33,529.27 164.93,528.6 167.54,527.92 170.14,527.21 172.75,526.49 175.35,525.75 177.95,525 180.56,524.22 183.16,523.43 185.77,522.63 188.37,521.81 190.97,520.97 193.58,520.11 196.18,519.24 198.79,518.36 201.39,517.46 204,516.54 206.6,515.61 209.2,514.67 211.81,513.71 214.41,512.74 217.02,511.75 219.62,510.76 222.22,509.75 224.83,508.73 227.43,507.69 230.04,506.65 232.64,505.59 235.25,504.52 237.85,503.44 240.45,502.35 243.06,501.25 245.66,500.14 248.27,499.02 250.87,497.9 253.47,496.76 256.08,495.61 258.68,494.46 261.29,493.3 263.89,492.13 266.5,490.95 269.1,489.77 271.7,488.58 274.31,487.38 276.91,486.18 279.52,484.97 282.12,483.76 284.73,482.54 287.33,481.31 289.93,480.09 292.54,478.86 295.14,477.62 297.75,476.38 300.35,475.14 302.95,473.89 305.56,472.64 308.16,471.39 310.77,470.14 313.37,468.89 315.98,467.63 318.58,466.38 321.18,465.12 323.79,463.86 326.39,462.61 329,461.35 331.6,460.09 334.2,458.83 336.81,457.58 339.41,456.32 342.02,455.07 344.62,453.82 347.23,452.57 349.83,451.32 352.43,450.08 355.04,448.84 357.64,447.6 360.25,446.36 362.85,445.13 365.45,443.9 368.06,442.68 370.66,441.46 373.27,440.24 375.87,439.03 378.48,437.83 381.08,436.63 383.68,435.43 386.29,434.24 388.89,433.05 391.5,431.87 394.1,430.7" stroke="#0000ff" stroke-dasharray="6.5 6.5"/>
<polyline points="81.6,498.9 84.2,498.89 86.81,498.86 89.41,498.81 92.02,498.74 94.62,498.64 97.22,498.53 99.83,498.39 102.43,498.23 105.04,498.04 107.64,497.84 110.25,497.61 112.85,497.36 115.45,497.08 118.06,496.79 120.66,496.47 123.27,496.12 125.87,495.76 128.47,495.37 131.08,494.96 133.68,494.52 136.29,494.06 138.89,493.59 141.5,493.08 144.1,492.56 146.7,492.01 149.31,491.45 151.91,490.86 154.52,490.25 157.12,489.62 159.72,488.97 162.33,488.3 164.93,487.61 167.54,486.9 170.14,486.17 172.75,485.42 175.35,484.66 177.95,483.87 180.56,483.07 183.16,482.26 185.77,481.42 188.37,480.57 190.97,479.7 193.58,478.82 196.18,477.93 198.79,477.02 201.39,476.09 204,475.16 206.6,474.21 209.2,473.24 211.81,472.27 214.41,471.29 217.02,470.29 219.62,469.28 222.22,468.27 224.83,467.24 227.43,466.21 230.04,465.16 232.64,464.11 235.25,463.05 237.85,461.99 240.45,460.92 243.06,459.84 245.66,458.75 248.27,457.66 250.87,456.57 253.47,455.47 256.08,454.37 258.68,453.26 261.29,452.16 263.89,451.04 266.5,449.93 269.1,448.81 271.7,447.7 274.31,446.58 276.91,445.45 279.52,444.33 282.12,443.21 284.73,442.09 287.33,440.96 289.93,439.84 292.54,438.72 295.14,437.6 297.75,436.47 300.35,435.35 302.95,434.23 305.56,433.11 308.16,431.99 310.77,430.87 313.37,429.76 315.98,428.64 318.58,427.52 321.18,426.41 323.79,425.29 326.39,424.18 329,423.06 331.6,421.95 334.2,420.83 336.81,419.71 339.41,418.6 342.02,417.48 344.62,416.36 347.23,415.23 349.83,414.11 352.43,412.98 355.04,411.84 357.64,410.71 360.25,409.56 362.85,408.42 365.45,407.26 368.06,406.1 370.66,404.93 373.27,403.75 375.87,402.57 378.48,401.37 381.08,400.16 383.68,398.93 386.29,397.7 388.89,396.45 391.5,395.18 394.1,393.9" stroke="#00ff00" stroke-dasharray="11.3 8.2 1.6 8.2"/>
</g>
<line x1="75.5" y1="487.35" x2="400.5" y2="487.35" stroke="#505050" stroke-width="1.0"/>
<rect x="75.5" y="383.3" width="325" height="201.1" fill="none" stroke="#8c8c8c" stroke-width="0.95"/>
<line x1="81.6" y1="584.4" x2="81.6" y2="580.3" stroke="#8c8c8c" stroke-width="0.85"/>
<line x1="81.6" y1="383.3" x2="81.6" y2="387.4" stroke="#8c8c8c" stroke-width="0.85"/>
<text x="81.1" y="601.3" font-size="15.4" text-anchor="middle" transform="rotate(0.03 81.1 601.3)">0.0</text>
<line x1="94.1" y1="584.4" x2="94.1" y2="581.9" stroke="#8c8c8c" stroke-width="0.85"/>
<line x1="94.1" y1="383.3" x2="94.1" y2="385.8" stroke="#8c8c8c" stroke-width="0.85"/>
<line x1="106.6" y1="584.4" x2="106.6" y2="581.9" stroke="#8c8c8c" stroke-width="0.85"/>
<line x1="106.6" y1="383.3" x2="106.6" y2="385.8" stroke="#8c8c8c" stroke-width="0.85"/>
<line x1="119.1" y1="584.4" x2="119.1" y2="581.9" stroke="#8c8c8c" stroke-width="0.85"/>
<line x1="119.1" y1="383.3" x2="119.1" y2="385.8" stroke="#8c8c8c" stroke-width="0.85"/>
<line x1="131.6" y1="584.4" x2="131.6" y2="581.9" stroke="#8c8c8c" stroke-width="0.85"/>
<line x1="131.6" y1="383.3" x2="131.6" y2="385.8" stroke="#8c8c8c" stroke-width="0.85"/>
<line x1="144.1" y1="584.4" x2="144.1" y2="580.3" stroke="#8c8c8c" stroke-width="0.85"/>
<line x1="144.1" y1="383.3" x2="144.1" y2="387.4" stroke="#8c8c8c" stroke-width="0.85"/>
<text x="143.6" y="601.3" font-size="15.4" text-anchor="middle" transform="rotate(0.03 143.6 601.3)">0.1</text>
<line x1="156.6" y1="584.4" x2="156.6" y2="581.9" stroke="#8c8c8c" stroke-width="0.85"/>
<line x1="156.6" y1="383.3" x2="156.6" y2="385.8" stroke="#8c8c8c" stroke-width="0.85"/>
<line x1="169.1" y1="584.4" x2="169.1" y2="581.9" stroke="#8c8c8c" stroke-width="0.85"/>
<line x1="169.1" y1="383.3" x2="169.1" y2="385.8" stroke="#8c8c8c" stroke-width="0.85"/>
<line x1="181.6" y1="584.4" x2="181.6" y2="581.9" stroke="#8c8c8c" stroke-width="0.85"/>
<line x1="181.6" y1="383.3" x2="181.6" y2="385.8" stroke="#8c8c8c" stroke-width="0.85"/>
<line x1="194.1" y1="584.4" x2="194.1" y2="581.9" stroke="#8c8c8c" stroke-width="0.85"/>
<line x1="194.1" y1="383.3" x2="194.1" y2="385.8" stroke="#8c8c8c" stroke-width="0.85"/>
<line x1="206.6" y1="584.4" x2="206.6" y2="580.3" stroke="#8c8c8c" stroke-width="0.85"/>
<line x1="206.6" y1="383.3" x2="206.6" y2="387.4" stroke="#8c8c8c" stroke-width="0.85"/>
<text x="206.1" y="601.3" font-size="15.4" text-anchor="middle" transform="rotate(0.03 206.1 601.3)">0.2</text>
<line x1="219.1" y1="584.4" x2="219.1" y2="581.9" stroke="#8c8c8c" stroke-width="0.85"/>
<line x1="219.1" y1="383.3" x2="219.1" y2="385.8" stroke="#8c8c8c" stroke-width="0.85"/>
<line x1="231.6" y1="584.4" x2="231.6" y2="581.9" stroke="#8c8c8c" stroke-width="0.85"/>
<line x1="231.6" y1="383.3" x2="231.6" y2="385.8" stroke="#8c8c8c" stroke-width="0.85"/>
<line x1="244.1" y1="584.4" x2="244.1" y2="581.9" stroke="#8c8c8c" stroke-width="0.85"/>
<line x1="244.1" y1="383.3" x2="244.1" y2="385.8" stroke="#8c8c8c" stroke-width="0.85"/>
<line x1="256.6" y1="584.4" x2="256.6" y2="581.9" stroke="#8c8c8c" stroke-width="0.85"/>
<line x1="256.6" y1="383.3" x2="256.6" y2="385.8" stroke="#8c8c8c" stroke-width="0.85"/>
<line x1="269.1" y1="584.4" x2="269.1" y2="580.3" stroke="#8c8c8c" stroke-width="0.85"/>
<line x1="269.1" y1="383.3" x2="269.1" y2="387.4" stroke="#8c8c8c" stroke-width="0.85"/>
<text x="268.6" y="601.3" font-size="15.4" text-anchor="middle" transform="rotate(0.03 268.6 601.3)">0.3</text>
<line x1="281.6" y1="584.4" x2="281.6" y2="581.9" stroke="#8c8c8c" stroke-width="0.85"/>
<line x1="281.6" y1="383.3" x2="281.6" y2="385.8" stroke="#8c8c8c" stroke-width="0.85"/>
<line x1="294.1" y1="584.4" x2="294.1" y2="581.9" stroke="#8c8c8c" stroke-width="0.85"/>
<line x1="294.1" y1="383.3" x2="294.1" y2="385.8" stroke="#8c8c8c" stroke-width="0.85"/>
<line x1="306.6" y1="584.4" x2="306.6" y2="581.9" stroke="#8c8c8c" stroke-width="0.85"/>
<line x1="306.6" y1="383.3" x2="306.6" y2="385.8" stroke="#8c8c8c" stroke-width="0.85"/>
<line x1="319.1" y1="584.4" x2="319.1" y2="581.9" stroke="#8c8c8c" stroke-width="0.85"/>
<line x1="319.1" y1="383.3" x2="319.1" y2="385.8" stroke="#8c8c8c" stroke-width="0.85"/>
<line x1="331.6" y1="584.4" x2="331.6" y2="580.3" stroke="#8c8c8c" stroke-width="0.85"/>
<line x1="331.6" y1="383.3" x2="331.6" y2="387.4" stroke="#8c8c8c" stroke-width="0.85"/>
<text x="331.1" y="601.3" font-size="15.4" text-anchor="middle" transform="rotate(0.03 331.1 601.3)">0.4</text>
<line x1="344.1" y1="584.4" x2="344.1" y2="581.9" stroke="#8c8c8c" stroke-width="0.85"/>
<line x1="344.1" y1="383.3" x2="344.1" y2="385.8" stroke="#8c8c8c" stroke-width="0.85"/>
<line x1="356.6" y1="584.4" x2="356.6" y2="581.9" stroke="#8c8c8c" stroke-width="0.85"/>
<line x1="356.6" y1="383.3" x2="356.6" y2="385.8" stroke="#8c8c8c" stroke-width="0.85"/>
<line x1="369.1" y1="584.4" x2="369.1" y2="581.9" stroke="#8c8c8c" stroke-width="0.85"/>
<line x1="369.1" y1="383.3" x2="369.1" y2="385.8" stroke="#8c8c8c" stroke-width="0.85"/>
<line x1="381.6" y1="584.4" x2="381.6" y2="581.9" stroke="#8c8c8c" stroke-width="0.85"/>
<line x1="381.6" y1="383.3" x2="381.6" y2="385.8" stroke="#8c8c8c" stroke-width="0.85"/>
<line x1="394.1" y1="584.4" x2="394.1" y2="580.3" stroke="#8c8c8c" stroke-width="0.85"/>
<line x1="394.1" y1="383.3" x2="394.1" y2="387.4" stroke="#8c8c8c" stroke-width="0.85"/>
<text x="393.6" y="601.3" font-size="15.4" text-anchor="middle" transform="rotate(0.03 393.6 601.3)">0.5</text>
<line x1="75.5" y1="579.88" x2="79.6" y2="579.88" stroke="#8c8c8c" stroke-width="0.85"/>
<line x1="400.5" y1="579.88" x2="396.4" y2="579.88" stroke="#8c8c8c" stroke-width="0.85"/>
<text x="71.4" y="584.73" font-size="15.4" text-anchor="end" transform="rotate(0.03 71.4 584.73)">−0.6</text>
<line x1="75.5" y1="572.16" x2="78" y2="572.16" stroke="#8c8c8c" stroke-width="0.85"/>
<line x1="400.5" y1="572.16" x2="398" y2="572.16" stroke="#8c8c8c" stroke-width="0.85"/>
<line x1="75.5" y1="564.45" x2="78" y2="564.45" stroke="#8c8c8c" stroke-width="0.85"/>
<line x1="400.5" y1="564.45" x2="398" y2="564.45" stroke="#8c8c8c" stroke-width="0.85"/>
<line x1="75.5" y1="556.74" x2="78" y2="556.74" stroke="#8c8c8c" stroke-width="0.85"/>
<line x1="400.5" y1="556.74" x2="398" y2="556.74" stroke="#8c8c8c" stroke-width="0.85"/>
<line x1="75.5" y1="549.02" x2="79.6" y2="549.02" stroke="#8c8c8c" stroke-width="0.85"/>
<line x1="400.5" y1="549.02" x2="396.4" y2="549.02" stroke="#8c8c8c" stroke-width="0.85"/>
<text x="71.4" y="553.87" font-size="15.4" text-anchor="end" transform="rotate(0.03 71.4 553.87)">−0.4</text>
<line x1="75.5" y1="541.31" x2="78" y2="541.31" stroke="#8c8c8c" stroke-width="0.85"/>
<line x1="400.5" y1="541.31" x2="398" y2="541.31" stroke="#8c8c8c" stroke-width="0.85"/>
<line x1="75.5" y1="533.59" x2="78" y2="533.59" stroke="#8c8c8c" stroke-width="0.85"/>
<line x1="400.5" y1="533.59" x2="398" y2="533.59" stroke="#8c8c8c" stroke-width="0.85"/>
<line x1="75.5" y1="525.88" x2="78" y2="525.88" stroke="#8c8c8c" stroke-width="0.85"/>
<line x1="400.5" y1="525.88" x2="398" y2="525.88" stroke="#8c8c8c" stroke-width="0.85"/>
<line x1="75.5" y1="518.16" x2="79.6" y2="518.16" stroke="#8c8c8c" stroke-width="0.85"/>
<line x1="400.5" y1="518.16" x2="396.4" y2="518.16" stroke="#8c8c8c" stroke-width="0.85"/>
<text x="71.4" y="523.01" font-size="15.4" text-anchor="end" transform="rotate(0.03 71.4 523.01)">−0.2</text>
<line x1="75.5" y1="510.44" x2="78" y2="510.44" stroke="#8c8c8c" stroke-width="0.85"/>
<line x1="400.5" y1="510.44" x2="398" y2="510.44" stroke="#8c8c8c" stroke-width="0.85"/>
<line x1="75.5" y1="502.73" x2="78" y2="502.73" stroke="#8c8c8c" stroke-width="0.85"/>
<line x1="400.5" y1="502.73" x2="398" y2="502.73" stroke="#8c8c8c" stroke-width="0.85"/>
<line x1="75.5" y1="495.01" x2="78" y2="495.01" stroke="#8c8c8c" stroke-width="0.85"/>
<line x1="400.5" y1="495.01" x2="398" y2="495.01" stroke="#8c8c8c" stroke-width="0.85"/>
<line x1="75.5" y1="487.3" x2="79.6" y2="487.3" stroke="#8c8c8c" stroke-width="0.85"/>
<line x1="400.5" y1="487.3" x2="396.4" y2="487.3" stroke="#8c8c8c" stroke-width="0.85"/>
<text x="71.4" y="492.15" font-size="15.4" text-anchor="end" transform="rotate(0.03 71.4 492.15)">0.0</text>
<line x1="75.5" y1="479.59" x2="78" y2="479.59" stroke="#8c8c8c" stroke-width="0.85"/>
<line x1="400.5" y1="479.59" x2="398" y2="479.59" stroke="#8c8c8c" stroke-width="0.85"/>
<line x1="75.5" y1="471.87" x2="78" y2="471.87" stroke="#8c8c8c" stroke-width="0.85"/>
<line x1="400.5" y1="471.87" x2="398" y2="471.87" stroke="#8c8c8c" stroke-width="0.85"/>
<line x1="75.5" y1="464.16" x2="78" y2="464.16" stroke="#8c8c8c" stroke-width="0.85"/>
<line x1="400.5" y1="464.16" x2="398" y2="464.16" stroke="#8c8c8c" stroke-width="0.85"/>
<line x1="75.5" y1="456.44" x2="79.6" y2="456.44" stroke="#8c8c8c" stroke-width="0.85"/>
<line x1="400.5" y1="456.44" x2="396.4" y2="456.44" stroke="#8c8c8c" stroke-width="0.85"/>
<text x="71.4" y="461.29" font-size="15.4" text-anchor="end" transform="rotate(0.03 71.4 461.29)">0.2</text>
<line x1="75.5" y1="448.73" x2="78" y2="448.73" stroke="#8c8c8c" stroke-width="0.85"/>
<line x1="400.5" y1="448.73" x2="398" y2="448.73" stroke="#8c8c8c" stroke-width="0.85"/>
<line x1="75.5" y1="441.01" x2="78" y2="441.01" stroke="#8c8c8c" stroke-width="0.85"/>
<line x1="400.5" y1="441.01" x2="398" y2="441.01" stroke="#8c8c8c" stroke-width="0.85"/>
<line x1="75.5" y1="433.3" x2="78" y2="433.3" stroke="#8c8c8c" stroke-width="0.85"/>
<line x1="400.5" y1="433.3" x2="398" y2="433.3" stroke="#8c8c8c" stroke-width="0.85"/>
<line x1="75.5" y1="425.58" x2="79.6" y2="425.58" stroke="#8c8c8c" stroke-width="0.85"/>
<line x1="400.5" y1="425.58" x2="396.4" y2="425.58" stroke="#8c8c8c" stroke-width="0.85"/>
<text x="71.4" y="430.43" font-size="15.4" text-anchor="end" transform="rotate(0.03 71.4 430.43)">0.4</text>
<line x1="75.5" y1="417.87" x2="78" y2="417.87" stroke="#8c8c8c" stroke-width="0.85"/>
<line x1="400.5" y1="417.87" x2="398" y2="417.87" stroke="#8c8c8c" stroke-width="0.85"/>
<line x1="75.5" y1="410.15" x2="78" y2="410.15" stroke="#8c8c8c" stroke-width="0.85"/>
<line x1="400.5" y1="410.15" x2="398" y2="410.15" stroke="#8c8c8c" stroke-width="0.85"/>
<line x1="75.5" y1="402.44" x2="78" y2="402.44" stroke="#8c8c8c" stroke-width="0.85"/>
<line x1="400.5" y1="402.44" x2="398" y2="402.44" stroke="#8c8c8c" stroke-width="0.85"/>
<line x1="75.5" y1="394.72" x2="79.6" y2="394.72" stroke="#8c8c8c" stroke-width="0.85"/>
<line x1="400.5" y1="394.72" x2="396.4" y2="394.72" stroke="#8c8c8c" stroke-width="0.85"/>
<text x="71.4" y="399.57" font-size="15.4" text-anchor="end" transform="rotate(0.03 71.4 399.57)">0.6</text>
<line x1="75.5" y1="387" x2="78" y2="387" stroke="#8c8c8c" stroke-width="0.85"/>
<line x1="400.5" y1="387" x2="398" y2="387" stroke="#8c8c8c" stroke-width="0.85"/>
<text x="226.09" y="625" font-size="15.4" text-anchor="start" font-style="italic" transform="rotate(0.03 226.09 625)">k</text>
<text x="233.17" y="627.7" font-size="12.3" text-anchor="start" transform="rotate(0.03 233.17 627.7)" textLength="6.16" lengthAdjust="spacingAndGlyphs">0</text>
<text x="240.93" y="625" font-size="15.4" text-anchor="start" font-style="italic" transform="rotate(0.03 240.93 625)">ρ</text>
<g transform="translate(27.7,532.7) rotate(-90)">
<text x="-1.26" y="0" font-size="15.4" text-anchor="start" transform="rotate(0.03 -1.26 0)">Re</text>
<text x="22.84" y="0" font-size="15.4" text-anchor="start" transform="rotate(0.03 22.84 0)">{</text>
<text x="32.66" y="0" font-size="15.4" text-anchor="start" font-style="italic" transform="rotate(0.03 32.66 0)" textLength="7.40" lengthAdjust="spacingAndGlyphs">ϵ</text>
<text x="39.44" y="4.4" font-size="11.0" text-anchor="start" transform="rotate(0.03 39.44 4.4)">hcm</text>
<text x="65.5" y="0" font-size="15.4" text-anchor="start" transform="rotate(0.03 65.5 0)">/</text>
<text x="74.56" y="0" font-size="15.4" text-anchor="start" font-style="italic" transform="rotate(0.03 74.56 0)" textLength="7.40" lengthAdjust="spacingAndGlyphs">ϵ</text>
<text x="81.98" y="3.4" font-size="10.7" text-anchor="start" transform="rotate(0.03 81.98 3.4)">0</text>
<text x="92.64" y="0" font-size="15.4" text-anchor="start" transform="rotate(0.03 92.64 0)">}</text>
<path d="M42.5,-6.3 V-16.4" stroke="#7a7a7a" stroke-width="2.7" fill="none"/>
</g>
<g fill="none" stroke-width="3.5" stroke-linecap="square" stroke-linejoin="round">
<polyline points="545.7,574.3 548.3,574.3 550.9,574.31 553.5,574.31 556.1,574.31 558.7,574.31 561.3,574.3 563.9,574.28 566.5,574.26 569.1,574.22 571.7,574.17 574.3,574.11 576.9,574.03 579.5,573.94 582.1,573.82 584.7,573.69 587.3,573.53 589.9,573.35 592.5,573.15 595.1,572.93 597.7,572.68 600.3,572.4 602.9,572.09 605.5,571.76 608.1,571.39 610.7,571 613.3,570.57 615.9,570.11 618.5,569.62 621.1,569.1 623.7,568.54 626.3,567.95 628.9,567.32 631.5,566.65 634.1,565.96 636.7,565.22 639.3,564.45 641.9,563.64 644.5,562.79 647.1,561.91 649.7,560.99 652.3,560.03 654.9,559.03 657.5,557.99 660.1,556.92 662.7,555.81 665.3,554.66 667.9,553.47 670.5,552.24 673.1,550.98 675.7,549.68 678.3,548.33 680.9,546.96 683.5,545.54 686.1,544.09 688.7,542.6 691.3,541.07 693.9,539.51 696.5,537.91 699.1,536.28 701.7,534.61 704.3,532.91 706.9,531.17 709.5,529.4 712.1,527.59 714.7,525.75 717.3,523.88 719.9,521.98 722.5,520.05 725.1,518.08 727.7,516.09 730.3,514.06 732.9,512.01 735.5,509.93 738.1,507.82 740.7,505.68 743.3,503.52 745.9,501.33 748.5,499.12 751.1,496.88 753.7,494.62 756.3,492.33 758.9,490.03 761.5,487.7 764.1,485.35 766.7,482.98 769.3,480.59 771.9,478.19 774.5,475.76 777.1,473.32 779.7,470.86 782.3,468.39 784.9,465.9 787.5,463.4 790.1,460.89 792.7,458.36 795.3,455.82 797.9,453.27 800.5,450.71 803.1,448.15 805.7,445.57 808.3,442.98 810.9,440.39 813.5,437.79 816.1,435.19 818.7,432.58 821.3,429.96 823.9,427.35 826.5,424.73 829.1,422.11 831.7,419.48 834.3,416.86 836.9,414.23 839.5,411.61 842.1,408.98 844.7,406.36 847.3,403.74 849.9,401.13 852.5,398.51 855.1,395.9 857.7,393.3" stroke="#ff0000"/>
<polyline points="545.7,574.3 548.3,574.3 550.9,574.31 553.5,574.32 556.1,574.32 558.7,574.33 561.3,574.33 563.9,574.32 566.5,574.3 569.1,574.28 571.7,574.24 574.3,574.18 576.9,574.11 579.5,574.02 582.1,573.92 584.7,573.79 587.3,573.64 589.9,573.47 592.5,573.27 595.1,573.05 597.7,572.8 600.3,572.52 602.9,572.22 605.5,571.88 608.1,571.52 610.7,571.12 613.3,570.69 615.9,570.23 618.5,569.73 621.1,569.2 623.7,568.64 626.3,568.04 628.9,567.4 631.5,566.73 634.1,566.02 636.7,565.28 639.3,564.5 641.9,563.68 644.5,562.82 647.1,561.92 649.7,560.99 652.3,560.02 654.9,559.01 657.5,557.97 660.1,556.88 662.7,555.76 665.3,554.6 667.9,553.4 670.5,552.17 673.1,550.9 675.7,549.59 678.3,548.25 680.9,546.87 683.5,545.46 686.1,544.01 688.7,542.52 691.3,541 693.9,539.45 696.5,537.86 699.1,536.24 701.7,534.59 704.3,532.9 706.9,531.19 709.5,529.44 712.1,527.67 714.7,525.86 717.3,524.03 719.9,522.17 722.5,520.28 725.1,518.36 727.7,516.42 730.3,514.46 732.9,512.47 735.5,510.45 738.1,508.41 740.7,506.36 743.3,504.27 745.9,502.17 748.5,500.05 751.1,497.91 753.7,495.75 756.3,493.58 758.9,491.39 761.5,489.18 764.1,486.96 766.7,484.72 769.3,482.47 771.9,480.21 774.5,477.94 777.1,475.65 779.7,473.36 782.3,471.05 784.9,468.74 787.5,466.42 790.1,464.09 792.7,461.76 795.3,459.42 797.9,457.07 800.5,454.73 803.1,452.37 805.7,450.02 808.3,447.66 810.9,445.3 813.5,442.94 816.1,440.58 818.7,438.23 821.3,435.87 823.9,433.51 826.5,431.16 829.1,428.8 831.7,426.45 834.3,424.11 836.9,421.76 839.5,419.43 842.1,417.09 844.7,414.76 847.3,412.44 849.9,410.12 852.5,407.81 855.1,405.5 857.7,403.2" stroke="#0000ff" stroke-dasharray="6.5 6.5"/>
<polyline points="545.7,574.3 548.3,574.3 550.9,574.31 553.5,574.31 556.1,574.31 558.7,574.31 561.3,574.31 563.9,574.29 566.5,574.27 569.1,574.23 571.7,574.19 574.3,574.12 576.9,574.04 579.5,573.95 582.1,573.83 584.7,573.69 587.3,573.54 589.9,573.35 592.5,573.15 595.1,572.92 597.7,572.66 600.3,572.38 602.9,572.06 605.5,571.72 608.1,571.35 610.7,570.95 613.3,570.52 615.9,570.05 618.5,569.55 621.1,569.02 623.7,568.46 626.3,567.86 628.9,567.23 631.5,566.56 634.1,565.86 636.7,565.13 639.3,564.36 641.9,563.55 644.5,562.71 647.1,561.83 649.7,560.92 652.3,559.97 654.9,558.99 657.5,557.97 660.1,556.92 662.7,555.83 665.3,554.7 667.9,553.55 670.5,552.36 673.1,551.13 675.7,549.87 678.3,548.58 680.9,547.26 683.5,545.9 686.1,544.51 688.7,543.1 691.3,541.65 693.9,540.17 696.5,538.66 699.1,537.12 701.7,535.56 704.3,533.97 706.9,532.35 709.5,530.7 712.1,529.03 714.7,527.34 717.3,525.62 719.9,523.88 722.5,522.11 725.1,520.33 727.7,518.52 730.3,516.69 732.9,514.85 735.5,512.98 738.1,511.1 740.7,509.2 743.3,507.29 745.9,505.36 748.5,503.42 751.1,501.47 753.7,499.5 756.3,497.52 758.9,495.53 761.5,493.53 764.1,491.52 766.7,489.51 769.3,487.49 771.9,485.46 774.5,483.43 777.1,481.39 779.7,479.35 782.3,477.3 784.9,475.26 787.5,473.21 790.1,471.16 792.7,469.12 795.3,467.07 797.9,465.03 800.5,462.99 803.1,460.95 805.7,458.92 808.3,456.89 810.9,454.87 813.5,452.85 816.1,450.85 818.7,448.85 821.3,446.85 823.9,444.87 826.5,442.9 829.1,440.93 831.7,438.98 834.3,437.03 836.9,435.1 839.5,433.18 842.1,431.27 844.7,429.38 847.3,427.5 849.9,425.63 852.5,423.77 855.1,421.93 857.7,420.1" stroke="#00ff00" stroke-dasharray="11.3 8.2 1.6 8.2"/>
</g>
<rect x="539.2" y="383.3" width="325.4" height="201.1" fill="none" stroke="#8c8c8c" stroke-width="0.95"/>
<line x1="545.7" y1="584.4" x2="545.7" y2="580.3" stroke="#8c8c8c" stroke-width="0.85"/>
<line x1="545.7" y1="383.3" x2="545.7" y2="387.4" stroke="#8c8c8c" stroke-width="0.85"/>
<text x="545.2" y="601.3" font-size="15.4" text-anchor="middle" transform="rotate(0.03 545.2 601.3)">0.0</text>
<line x1="558.18" y1="584.4" x2="558.18" y2="581.9" stroke="#8c8c8c" stroke-width="0.85"/>
<line x1="558.18" y1="383.3" x2="558.18" y2="385.8" stroke="#8c8c8c" stroke-width="0.85"/>
<line x1="570.66" y1="584.4" x2="570.66" y2="581.9" stroke="#8c8c8c" stroke-width="0.85"/>
<line x1="570.66" y1="383.3" x2="570.66" y2="385.8" stroke="#8c8c8c" stroke-width="0.85"/>
<line x1="583.14" y1="584.4" x2="583.14" y2="581.9" stroke="#8c8c8c" stroke-width="0.85"/>
<line x1="583.14" y1="383.3" x2="583.14" y2="385.8" stroke="#8c8c8c" stroke-width="0.85"/>
<line x1="595.62" y1="584.4" x2="595.62" y2="581.9" stroke="#8c8c8c" stroke-width="0.85"/>
<line x1="595.62" y1="383.3" x2="595.62" y2="385.8" stroke="#8c8c8c" stroke-width="0.85"/>
<line x1="608.1" y1="584.4" x2="608.1" y2="580.3" stroke="#8c8c8c" stroke-width="0.85"/>
<line x1="608.1" y1="383.3" x2="608.1" y2="387.4" stroke="#8c8c8c" stroke-width="0.85"/>
<text x="607.6" y="601.3" font-size="15.4" text-anchor="middle" transform="rotate(0.03 607.6 601.3)">0.1</text>
<line x1="620.58" y1="584.4" x2="620.58" y2="581.9" stroke="#8c8c8c" stroke-width="0.85"/>
<line x1="620.58" y1="383.3" x2="620.58" y2="385.8" stroke="#8c8c8c" stroke-width="0.85"/>
<line x1="633.06" y1="584.4" x2="633.06" y2="581.9" stroke="#8c8c8c" stroke-width="0.85"/>
<line x1="633.06" y1="383.3" x2="633.06" y2="385.8" stroke="#8c8c8c" stroke-width="0.85"/>
<line x1="645.54" y1="584.4" x2="645.54" y2="581.9" stroke="#8c8c8c" stroke-width="0.85"/>
<line x1="645.54" y1="383.3" x2="645.54" y2="385.8" stroke="#8c8c8c" stroke-width="0.85"/>
<line x1="658.02" y1="584.4" x2="658.02" y2="581.9" stroke="#8c8c8c" stroke-width="0.85"/>
<line x1="658.02" y1="383.3" x2="658.02" y2="385.8" stroke="#8c8c8c" stroke-width="0.85"/>
<line x1="670.5" y1="584.4" x2="670.5" y2="580.3" stroke="#8c8c8c" stroke-width="0.85"/>
<line x1="670.5" y1="383.3" x2="670.5" y2="387.4" stroke="#8c8c8c" stroke-width="0.85"/>
<text x="670" y="601.3" font-size="15.4" text-anchor="middle" transform="rotate(0.03 670 601.3)">0.2</text>
<line x1="682.98" y1="584.4" x2="682.98" y2="581.9" stroke="#8c8c8c" stroke-width="0.85"/>
<line x1="682.98" y1="383.3" x2="682.98" y2="385.8" stroke="#8c8c8c" stroke-width="0.85"/>
<line x1="695.46" y1="584.4" x2="695.46" y2="581.9" stroke="#8c8c8c" stroke-width="0.85"/>
<line x1="695.46" y1="383.3" x2="695.46" y2="385.8" stroke="#8c8c8c" stroke-width="0.85"/>
<line x1="707.94" y1="584.4" x2="707.94" y2="581.9" stroke="#8c8c8c" stroke-width="0.85"/>
<line x1="707.94" y1="383.3" x2="707.94" y2="385.8" stroke="#8c8c8c" stroke-width="0.85"/>
<line x1="720.42" y1="584.4" x2="720.42" y2="581.9" stroke="#8c8c8c" stroke-width="0.85"/>
<line x1="720.42" y1="383.3" x2="720.42" y2="385.8" stroke="#8c8c8c" stroke-width="0.85"/>
<line x1="732.9" y1="584.4" x2="732.9" y2="580.3" stroke="#8c8c8c" stroke-width="0.85"/>
<line x1="732.9" y1="383.3" x2="732.9" y2="387.4" stroke="#8c8c8c" stroke-width="0.85"/>
<text x="732.4" y="601.3" font-size="15.4" text-anchor="middle" transform="rotate(0.03 732.4 601.3)">0.3</text>
<line x1="745.38" y1="584.4" x2="745.38" y2="581.9" stroke="#8c8c8c" stroke-width="0.85"/>
<line x1="745.38" y1="383.3" x2="745.38" y2="385.8" stroke="#8c8c8c" stroke-width="0.85"/>
<line x1="757.86" y1="584.4" x2="757.86" y2="581.9" stroke="#8c8c8c" stroke-width="0.85"/>
<line x1="757.86" y1="383.3" x2="757.86" y2="385.8" stroke="#8c8c8c" stroke-width="0.85"/>
<line x1="770.34" y1="584.4" x2="770.34" y2="581.9" stroke="#8c8c8c" stroke-width="0.85"/>
<line x1="770.34" y1="383.3" x2="770.34" y2="385.8" stroke="#8c8c8c" stroke-width="0.85"/>
<line x1="782.82" y1="584.4" x2="782.82" y2="581.9" stroke="#8c8c8c" stroke-width="0.85"/>
<line x1="782.82" y1="383.3" x2="782.82" y2="385.8" stroke="#8c8c8c" stroke-width="0.85"/>
<line x1="795.3" y1="584.4" x2="795.3" y2="580.3" stroke="#8c8c8c" stroke-width="0.85"/>
<line x1="795.3" y1="383.3" x2="795.3" y2="387.4" stroke="#8c8c8c" stroke-width="0.85"/>
<text x="794.8" y="601.3" font-size="15.4" text-anchor="middle" transform="rotate(0.03 794.8 601.3)">0.4</text>
<line x1="807.78" y1="584.4" x2="807.78" y2="581.9" stroke="#8c8c8c" stroke-width="0.85"/>
<line x1="807.78" y1="383.3" x2="807.78" y2="385.8" stroke="#8c8c8c" stroke-width="0.85"/>
<line x1="820.26" y1="584.4" x2="820.26" y2="581.9" stroke="#8c8c8c" stroke-width="0.85"/>
<line x1="820.26" y1="383.3" x2="820.26" y2="385.8" stroke="#8c8c8c" stroke-width="0.85"/>
<line x1="832.74" y1="584.4" x2="832.74" y2="581.9" stroke="#8c8c8c" stroke-width="0.85"/>
<line x1="832.74" y1="383.3" x2="832.74" y2="385.8" stroke="#8c8c8c" stroke-width="0.85"/>
<line x1="845.22" y1="584.4" x2="845.22" y2="581.9" stroke="#8c8c8c" stroke-width="0.85"/>
<line x1="845.22" y1="383.3" x2="845.22" y2="385.8" stroke="#8c8c8c" stroke-width="0.85"/>
<line x1="857.7" y1="584.4" x2="857.7" y2="580.3" stroke="#8c8c8c" stroke-width="0.85"/>
<line x1="857.7" y1="383.3" x2="857.7" y2="387.4" stroke="#8c8c8c" stroke-width="0.85"/>
<text x="857.2" y="601.3" font-size="15.4" text-anchor="middle" transform="rotate(0.03 857.2 601.3)">0.5</text>
<line x1="539.2" y1="583.15" x2="541.7" y2="583.15" stroke="#8c8c8c" stroke-width="0.85"/>
<line x1="864.6" y1="583.15" x2="862.1" y2="583.15" stroke="#8c8c8c" stroke-width="0.85"/>
<line x1="539.2" y1="574.3" x2="543.3" y2="574.3" stroke="#8c8c8c" stroke-width="0.85"/>
<line x1="864.6" y1="574.3" x2="860.5" y2="574.3" stroke="#8c8c8c" stroke-width="0.85"/>
<text x="535.1" y="579.15" font-size="15.4" text-anchor="end" transform="rotate(0.03 535.1 579.15)">0.00</text>
<line x1="539.2" y1="565.45" x2="541.7" y2="565.45" stroke="#8c8c8c" stroke-width="0.85"/>
<line x1="864.6" y1="565.45" x2="862.1" y2="565.45" stroke="#8c8c8c" stroke-width="0.85"/>
<line x1="539.2" y1="556.6" x2="541.7" y2="556.6" stroke="#8c8c8c" stroke-width="0.85"/>
<line x1="864.6" y1="556.6" x2="862.1" y2="556.6" stroke="#8c8c8c" stroke-width="0.85"/>
<line x1="539.2" y1="547.75" x2="541.7" y2="547.75" stroke="#8c8c8c" stroke-width="0.85"/>
<line x1="864.6" y1="547.75" x2="862.1" y2="547.75" stroke="#8c8c8c" stroke-width="0.85"/>
<line x1="539.2" y1="538.9" x2="541.7" y2="538.9" stroke="#8c8c8c" stroke-width="0.85"/>
<line x1="864.6" y1="538.9" x2="862.1" y2="538.9" stroke="#8c8c8c" stroke-width="0.85"/>
<line x1="539.2" y1="530.05" x2="543.3" y2="530.05" stroke="#8c8c8c" stroke-width="0.85"/>
<line x1="864.6" y1="530.05" x2="860.5" y2="530.05" stroke="#8c8c8c" stroke-width="0.85"/>
<text x="535.1" y="534.9" font-size="15.4" text-anchor="end" transform="rotate(0.03 535.1 534.9)">0.05</text>
<line x1="539.2" y1="521.2" x2="541.7" y2="521.2" stroke="#8c8c8c" stroke-width="0.85"/>
<line x1="864.6" y1="521.2" x2="862.1" y2="521.2" stroke="#8c8c8c" stroke-width="0.85"/>
<line x1="539.2" y1="512.35" x2="541.7" y2="512.35" stroke="#8c8c8c" stroke-width="0.85"/>
<line x1="864.6" y1="512.35" x2="862.1" y2="512.35" stroke="#8c8c8c" stroke-width="0.85"/>
<line x1="539.2" y1="503.5" x2="541.7" y2="503.5" stroke="#8c8c8c" stroke-width="0.85"/>
<line x1="864.6" y1="503.5" x2="862.1" y2="503.5" stroke="#8c8c8c" stroke-width="0.85"/>
<line x1="539.2" y1="494.65" x2="541.7" y2="494.65" stroke="#8c8c8c" stroke-width="0.85"/>
<line x1="864.6" y1="494.65" x2="862.1" y2="494.65" stroke="#8c8c8c" stroke-width="0.85"/>
<line x1="539.2" y1="485.8" x2="543.3" y2="485.8" stroke="#8c8c8c" stroke-width="0.85"/>
<line x1="864.6" y1="485.8" x2="860.5" y2="485.8" stroke="#8c8c8c" stroke-width="0.85"/>
<text x="535.1" y="490.65" font-size="15.4" text-anchor="end" transform="rotate(0.03 535.1 490.65)">0.10</text>
<line x1="539.2" y1="476.95" x2="541.7" y2="476.95" stroke="#8c8c8c" stroke-width="0.85"/>
<line x1="864.6" y1="476.95" x2="862.1" y2="476.95" stroke="#8c8c8c" stroke-width="0.85"/>
<line x1="539.2" y1="468.1" x2="541.7" y2="468.1" stroke="#8c8c8c" stroke-width="0.85"/>
<line x1="864.6" y1="468.1" x2="862.1" y2="468.1" stroke="#8c8c8c" stroke-width="0.85"/>
<line x1="539.2" y1="459.25" x2="541.7" y2="459.25" stroke="#8c8c8c" stroke-width="0.85"/>
<line x1="864.6" y1="459.25" x2="862.1" y2="459.25" stroke="#8c8c8c" stroke-width="0.85"/>
<line x1="539.2" y1="450.4" x2="541.7" y2="450.4" stroke="#8c8c8c" stroke-width="0.85"/>
<line x1="864.6" y1="450.4" x2="862.1" y2="450.4" stroke="#8c8c8c" stroke-width="0.85"/>
<line x1="539.2" y1="441.55" x2="543.3" y2="441.55" stroke="#8c8c8c" stroke-width="0.85"/>
<line x1="864.6" y1="441.55" x2="860.5" y2="441.55" stroke="#8c8c8c" stroke-width="0.85"/>
<text x="535.1" y="446.4" font-size="15.4" text-anchor="end" transform="rotate(0.03 535.1 446.4)">0.15</text>
<line x1="539.2" y1="432.7" x2="541.7" y2="432.7" stroke="#8c8c8c" stroke-width="0.85"/>
<line x1="864.6" y1="432.7" x2="862.1" y2="432.7" stroke="#8c8c8c" stroke-width="0.85"/>
<line x1="539.2" y1="423.85" x2="541.7" y2="423.85" stroke="#8c8c8c" stroke-width="0.85"/>
<line x1="864.6" y1="423.85" x2="862.1" y2="423.85" stroke="#8c8c8c" stroke-width="0.85"/>
<line x1="539.2" y1="415" x2="541.7" y2="415" stroke="#8c8c8c" stroke-width="0.85"/>
<line x1="864.6" y1="415" x2="862.1" y2="415" stroke="#8c8c8c" stroke-width="0.85"/>
<line x1="539.2" y1="406.15" x2="541.7" y2="406.15" stroke="#8c8c8c" stroke-width="0.85"/>
<line x1="864.6" y1="406.15" x2="862.1" y2="406.15" stroke="#8c8c8c" stroke-width="0.85"/>
<line x1="539.2" y1="397.3" x2="543.3" y2="397.3" stroke="#8c8c8c" stroke-width="0.85"/>
<line x1="864.6" y1="397.3" x2="860.5" y2="397.3" stroke="#8c8c8c" stroke-width="0.85"/>
<text x="535.1" y="402.15" font-size="15.4" text-anchor="end" transform="rotate(0.03 535.1 402.15)">0.20</text>
<line x1="539.2" y1="388.45" x2="541.7" y2="388.45" stroke="#8c8c8c" stroke-width="0.85"/>
<line x1="864.6" y1="388.45" x2="862.1" y2="388.45" stroke="#8c8c8c" stroke-width="0.85"/>
<text x="689.99" y="625" font-size="15.4" text-anchor="start" font-style="italic" transform="rotate(0.03 689.99 625)">k</text>
<text x="697.07" y="627.7" font-size="12.3" text-anchor="start" transform="rotate(0.03 697.07 627.7)" textLength="6.16" lengthAdjust="spacingAndGlyphs">0</text>
<text x="704.83" y="625" font-size="15.4" text-anchor="start" font-style="italic" transform="rotate(0.03 704.83 625)">ρ</text>
<g transform="translate(492.7,531.5) rotate(-90)">
<text x="-1.42" y="0" font-size="15.4" text-anchor="start" transform="rotate(0.03 -1.42 0)">Im</text>
<text x="20.31" y="0" font-size="15.4" text-anchor="start" transform="rotate(0.03 20.31 0)">{</text>
<text x="30.13" y="0" font-size="15.4" text-anchor="start" font-style="italic" transform="rotate(0.03 30.13 0)" textLength="7.40" lengthAdjust="spacingAndGlyphs">ϵ</text>
<text x="36.91" y="4.4" font-size="11.0" text-anchor="start" transform="rotate(0.03 36.91 4.4)">hcm</text>
<text x="62.97" y="0" font-size="15.4" text-anchor="start" transform="rotate(0.03 62.97 0)">/</text>
<text x="72.03" y="0" font-size="15.4" text-anchor="start" font-style="italic" transform="rotate(0.03 72.03 0)" textLength="7.40" lengthAdjust="spacingAndGlyphs">ϵ</text>
<text x="79.45" y="3.4" font-size="10.7" text-anchor="start" transform="rotate(0.03 79.45 3.4)">0</text>
<text x="90.11" y="0" font-size="15.4" text-anchor="start" transform="rotate(0.03 90.11 0)">}</text>
<path d="M41,-6.2 V-16.0 M39,-6.2 V-16.0" stroke="#333" stroke-width="1.0" fill="none"/>
</g>
</svg>
</body></html>
